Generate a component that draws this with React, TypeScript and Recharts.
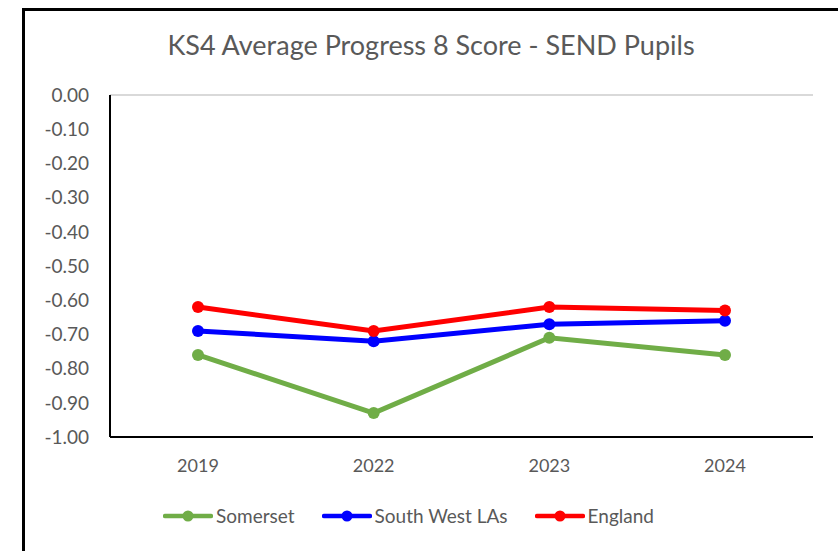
import { CartesianGrid, Line, LineChart, XAxis, YAxis } from 'recharts'

const years = ['2019', '2022', '2023', '2024']
const somerset = [-0.76, -0.93, -0.71, -0.76]
const southWest = [-0.69, -0.72, -0.67, -0.66]
const england = [-0.62, -0.69, -0.62, -0.63]
const yTicks = [0, -0.1, -0.2, -0.3, -0.4, -0.5, -0.6, -0.7, -0.8, -0.9, -1]

const series = [
  { key: 'somerset', name: 'Somerset', color: '#70AD47' },
  { key: 'southWest', name: 'South West LAs', color: '#0000FF' },
  { key: 'england', name: 'England', color: '#FF0000' },
]

const data = years.map((year, i) => ({
  year,
  somerset: somerset[i],
  southWest: southWest[i],
  england: england[i],
}))

const font = 'Lato, "Open Sans", sans-serif'
const textColor = '#595959'

function ChartLegend() {
  return (
    <div
      style={{
        position: 'absolute',
        top: 505,
        left: 163,
        display: 'flex',
        alignItems: 'center',
        gap: 27,
        fontFamily: font,
        fontSize: 19,
        color: textColor,
        lineHeight: '22px',
      }}
    >
      {series.map((s) => (
        <div key={s.key} style={{ display: 'flex', alignItems: 'center' }}>
          <svg width={50} height={14} style={{ marginRight: 3 }}>
            <line x1={2} x2={48} y1={7} y2={7} stroke={s.color} strokeWidth={4.5} strokeLinecap="round" />
            <circle cx={25} cy={7} r={5.5} fill={s.color} />
          </svg>
          <span>{s.name}</span>
        </div>
      ))}
    </div>
  )
}

export default function App() {
  return (
    <div style={{ position: 'absolute', left: 0, top: 0, width: 838, height: 551, background: '#fff', overflow: 'hidden' }}>
      <div
        style={{
          position: 'absolute',
          left: 22,
          top: 8,
          width: 830,
          height: 540,
          borderLeft: '3px solid #000',
          borderTop: '3px solid #000',
          borderBottom: '2px solid #7f7f7f',
        }}
      />
      <div
        style={{
          position: 'absolute',
          top: 28,
          left: 24,
          width: 814,
          textAlign: 'center',
          fontFamily: font,
          fontSize: 27,
          color: textColor,
        }}
      >
        KS4 Average Progress 8 Score - SEND Pupils
      </div>
      <div style={{ position: 'absolute', left: 0, top: 0 }}>
        <LineChart width={838} height={551} data={data} margin={{ top: 95, right: 25, bottom: 0, left: 0 }}>
          <CartesianGrid horizontal vertical={false} stroke="#d9d9d9" strokeWidth={2} />
          <XAxis
            dataKey="year"
            height={114}
            padding={{ left: 88, right: 88 }}
            axisLine={{ stroke: '#000', strokeWidth: 2 }}
            tickLine={false}
            tickMargin={16}
            tick={{ fill: textColor, fontSize: 18, fontFamily: font }}
          />
          <YAxis
            yAxisId="left"
            width={110}
            domain={[-1, 0]}
            ticks={yTicks}
            interval={0}
            tickFormatter={(v: number) => v.toFixed(2)}
            axisLine={{ stroke: '#000', strokeWidth: 2 }}
            tickLine={false}
            tickMargin={15}
            tick={{ fill: textColor, fontSize: 19, fontFamily: font }}
          />
          <YAxis
            yAxisId="right"
            orientation="right"
            width={0}
            domain={[-1, 0]}
            tick={false}
            axisLine={{ stroke: '#000', strokeWidth: 2 }}
          />
          {series.map((s) => (
            <Line
              key={s.key}
              yAxisId="left"
              type="linear"
              dataKey={s.key}
              name={s.name}
              stroke={s.color}
              strokeWidth={5}
              dot={{ r: 6, fill: s.color, stroke: s.color, strokeWidth: 0 }}
              activeDot={false}
              isAnimationActive={false}
            />
          ))}
        </LineChart>
      </div>
      <ChartLegend />
    </div>
  )
}
